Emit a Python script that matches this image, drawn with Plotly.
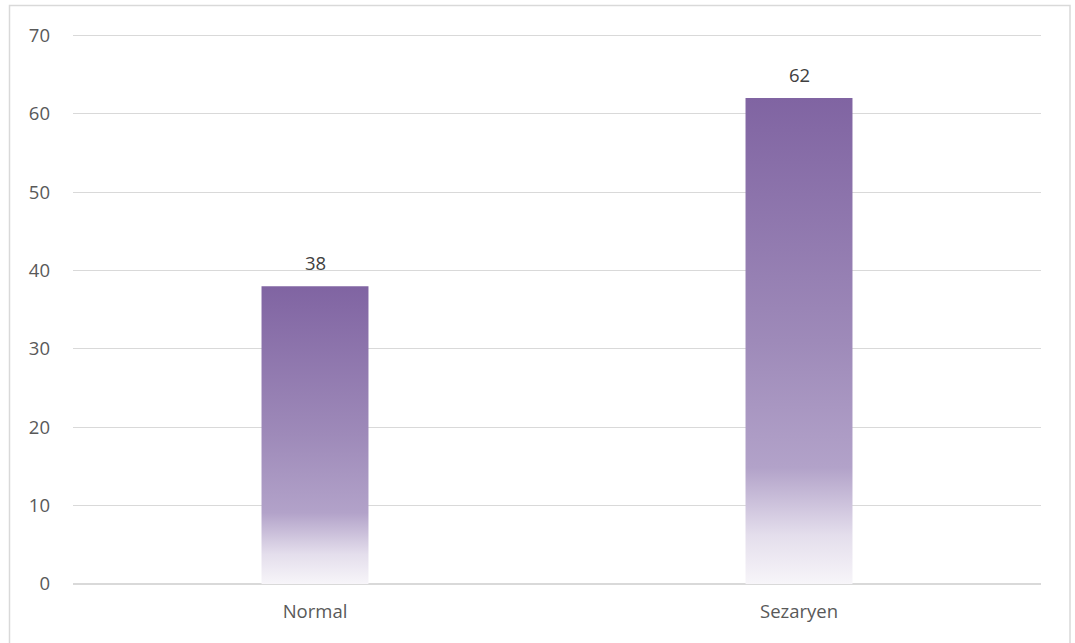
import plotly.graph_objects as go

categories = ["Normal", "Sezaryen"]
values = [38, 62]
y_ticks = [0, 10, 20, 30, 40, 50, 60, 70]

BAR_W = 0.221
FONT = "Open Sans"
grad = [
    [0.0, "rgb(247,245,249)"],
    [0.10, "rgb(228,222,236)"],
    [0.24, "rgb(178,162,201)"],
    [0.50, "rgb(158,138,185)"],
    [1.0, "rgb(128,100,162)"],
]

fig = go.Figure()
for i, (c, v) in enumerate(zip(categories, values)):
    xs = [i - BAR_W / 2, i + BAR_W / 2, i + BAR_W / 2, i - BAR_W / 2, i - BAR_W / 2]
    ys = [0, 0, v, v, 0]
    fig.add_trace(go.Scatter(
        x=xs, y=ys, mode="lines", fill="toself",
        line=dict(width=0, color="rgba(0,0,0,0)"),
        fillgradient=dict(type="vertical", colorscale=grad),
        name=c, showlegend=False, hoverinfo="skip",
    ))
    fig.add_annotation(x=i, y=v, text=str(v), showarrow=False,
                       yanchor="bottom", yshift=9,
                       font=dict(family=FONT, size=18.5, color="#404040"))

fig.update_layout(
    width=1075, height=643,
    margin=dict(l=73, r=34, t=33, b=59),
    paper_bgcolor="white", plot_bgcolor="white",
    font=dict(family=FONT, size=18.5, color="#595959"),
    xaxis=dict(range=[-0.5, len(categories) - 0.5], tickmode="array",
               tickvals=list(range(len(categories))), ticktext=categories,
               showgrid=False, zeroline=False, showline=False, ticks="",
               ticklabelstandoff=14, fixedrange=True),
    yaxis=dict(range=[0, 70.3], tickmode="array", tickvals=y_ticks,
               showgrid=True, gridcolor="#D9D9D9", gridwidth=1,
               zeroline=True, zerolinecolor="#D9D9D9", zerolinewidth=1.5,
               showline=False, ticks="", ticklabelstandoff=22, fixedrange=True),
    shapes=[dict(type="rect", xref="paper", yref="paper",
                 x0=(9.5 - 73) / 968, x1=(1070 - 73) / 968,
                 y0=(584 - 660) / 551, y1=(584 - 5.5) / 551,
                 line=dict(color="#D9D9D9", width=1.5), fillcolor="rgba(0,0,0,0)",
                 layer="below")],
)

fig.write_html("out.html")
